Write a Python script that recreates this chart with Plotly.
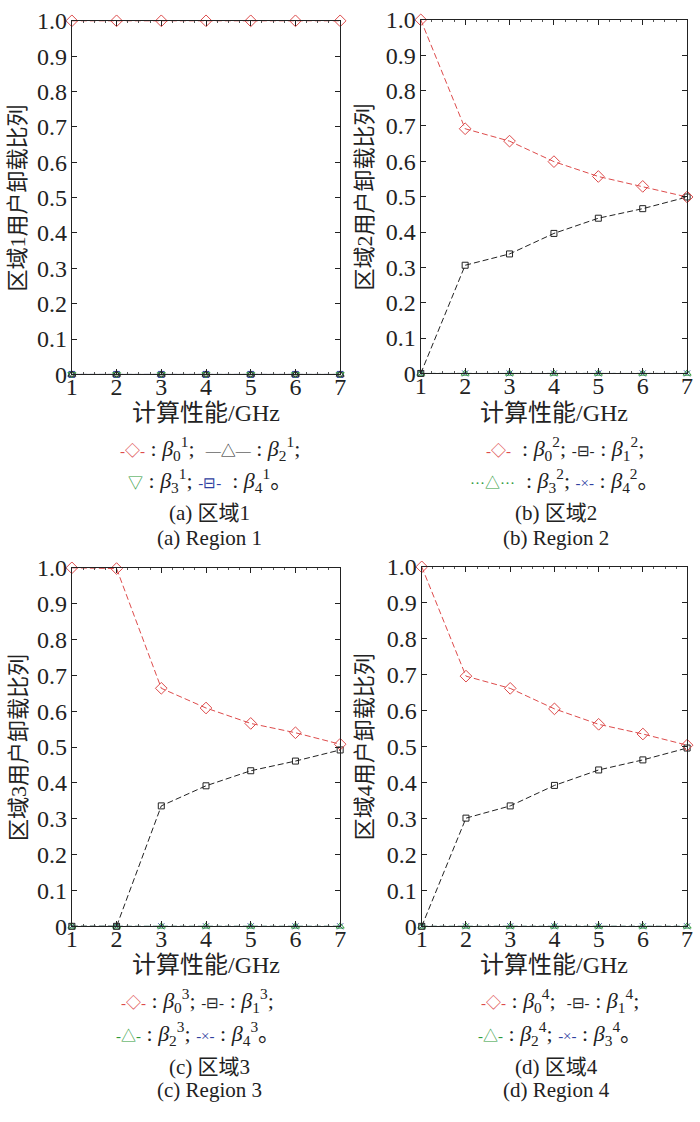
import plotly.graph_objects as go

# ---------------- data ----------------
x_ghz = [1, 2, 3, 4, 5, 6, 7]

# Region 1
r1_b0 = [1.0, 1.0, 1.0, 1.0, 1.0, 1.0, 1.0]
r1_b2 = [0.0, 0.0, 0.0, 0.0, 0.0, 0.0, 0.0]
r1_b3 = [0.0, 0.0, 0.0, 0.0, 0.0, 0.0, 0.0]
r1_b4 = [0.0, 0.0, 0.0, 0.0, 0.0, 0.0, 0.0]

# Region 2
r2_b0 = [1.0, 0.692, 0.657, 0.599, 0.557, 0.529, 0.499]
r2_b1 = [0.0, 0.306, 0.338, 0.396, 0.439, 0.466, 0.499]
r2_b3 = [0.0, 0.0, 0.0, 0.0, 0.0, 0.0, 0.0]
r2_b4 = [0.0, 0.0, 0.0, 0.0, 0.0, 0.0, 0.0]

# Region 3
r3_b0 = [1.0, 0.998, 0.664, 0.609, 0.566, 0.540, 0.508]
r3_b1 = [0.0, 0.0, 0.336, 0.392, 0.434, 0.461, 0.492]
r3_b2 = [0.0, 0.0, 0.0, 0.0, 0.0, 0.0, 0.0]
r3_b4 = [0.0, 0.0, 0.0, 0.0, 0.0, 0.0, 0.0]

# Region 4
r4_b0 = [1.0, 0.696, 0.662, 0.605, 0.562, 0.535, 0.504]
r4_b1 = [0.0, 0.301, 0.335, 0.392, 0.435, 0.463, 0.496]
r4_b2 = [0.0, 0.0, 0.0, 0.0, 0.0, 0.0, 0.0]
r4_b3 = [0.0, 0.0, 0.0, 0.0, 0.0, 0.0, 0.0]

y_ticks = [0, 0.1, 0.2, 0.3, 0.4, 0.5, 0.6, 0.7, 0.8, 0.9, 1.0]
y_ticktext = ["0", "0.1", "0.2", "0.3", "0.4", "0.5", "0.6", "0.7", "0.8", "0.9", "1.0"]

y_titles = ["区域1用户卸载比列", "区域2用户卸载比列", "区域3用户卸载比列", "区域4用户卸载比列"]
x_title = "计算性能/GHz"
captions_cn = ["(a) 区域1", "(b) 区域2", "(c) 区域3", "(d) 区域4"]
captions_en = ["(a) Region 1", "(b) Region 2", "(c) Region 3", "(d) Region 4"]

# ---------------- style ----------------
W, H = 700, 1122
RED = "#dd4b4b"
BLK = "#222222"
GRN = "#2f9a3a"
BLU = "#2f3f9f"
FONT = "Liberation Serif, Noto Sans CJK SC, serif"
DASH = "6px,3px"

# plot area pixel boxes: (left, right, top, bottom)
boxes = [(67, 340, 8, 370), (422, 693, 7, 369), (67, 340, 568, 935), (423, 693, 567, 935)]

fig = go.Figure()


def line(xref, yref, y, color, dash, symbol, size, mode="lines+markers"):
    fig.add_trace(go.Scatter(
        x=x_ghz, y=y, xaxis=xref, yaxis=yref, mode=mode,
        line=dict(color=color, width=1, dash=dash),
        marker=dict(symbol=symbol, size=size, color=color,
                    line=dict(color=color, width=1)),
        cliponaxis=False, showlegend=False))


# panel a
line("x", "y", r1_b4, BLU, DASH, "square-open", 6)
line("x", "y", r1_b3, GRN, None, "triangle-down-open", 7, mode="markers")
line("x", "y", r1_b2, BLK, "solid", "triangle-up-open", 7)
line("x", "y", r1_b0, RED, DASH, "diamond-open", 9)
# panel b
line("x2", "y2", r2_b4, BLU, DASH, "x-thin-open", 6)
line("x2", "y2", r2_b3, GRN, "dot", "triangle-up-open", 7)
line("x2", "y2", r2_b1, BLK, DASH, "square-open", 6)
line("x2", "y2", r2_b0, RED, DASH, "diamond-open", 9)
# panel c
line("x3", "y3", r3_b4, BLU, DASH, "x-thin-open", 6)
line("x3", "y3", r3_b2, GRN, DASH, "triangle-up-open", 7)
line("x3", "y3", r3_b1, BLK, DASH, "square-open", 6)
line("x3", "y3", r3_b0, RED, DASH, "diamond-open", 9)
# panel d
line("x4", "y4", r4_b3, BLU, DASH, "x-thin-open", 6)
line("x4", "y4", r4_b2, GRN, DASH, "triangle-up-open", 7)
line("x4", "y4", r4_b1, BLK, DASH, "square-open", 6)
line("x4", "y4", r4_b0, RED, DASH, "diamond-open", 9)

layout = dict(
    width=W, height=H, margin=dict(l=0, r=0, t=0, b=0),
    paper_bgcolor="white", plot_bgcolor="white",
    font=dict(family=FONT, size=22, color=BLK),
)

for i, (l, r, t, b) in enumerate(boxes):
    sfx = "" if i == 0 else str(i + 1)
    layout["xaxis" + sfx] = dict(
        domain=[l / W, r / W], anchor="y" + sfx, range=[1, 7],
        tickvals=x_ghz, ticks="inside", ticklen=5, tickcolor=BLK,
        showline=True, linecolor=BLK, linewidth=1.3, mirror="allticks",
        showgrid=False, zeroline=False, ticklabelstandoff=-9,
        tickfont=dict(family=FONT, size=24, color=BLK),
        minor=dict(ticks="inside", ticklen=2, dtick=0.25, tickcolor="#555", showgrid=False),
    )
    layout["yaxis" + sfx] = dict(
        domain=[1 - b / H, 1 - t / H], anchor="x" + sfx, range=[0, 1],
        tickvals=y_ticks, ticktext=y_ticktext, ticks="inside", ticklen=5, tickcolor=BLK,
        showline=True, linecolor=BLK, linewidth=1.3, mirror="allticks",
        showgrid=False, zeroline=False, ticklabelstandoff=-1,
        tickfont=dict(family=FONT, size=24, color=BLK),
    )

fig.update_layout(**layout)


def sym(txt, color):
    return f'<span style="color:{color};font-size:15px">{txt}</span>'


def beta(sub, sup):
    return f'<i>β</i><sub>{sub}</sub><sup>{sup}</sup>'


legend_rows = [
    [sym("-◇-", RED) + " : " + beta(0, 1) + ";  " + sym("—△—", BLK) + " : " + beta(2, 1) + ";",
     sym("▽", GRN) + " : " + beta(3, 1) + "; " + sym("-⊟-", BLU) + "  : " + beta(4, 1) + "。"],
    [sym("-◇-", RED) + "  : " + beta(0, 2) + "; " + sym("-⊟-", BLK) + " : " + beta(1, 2) + ";",
     sym("···△···", GRN) + "  : " + beta(3, 2) + "; " + sym("-×-", BLU) + " : " + beta(4, 2) + "。"],
    [sym("-◇-", RED) + " : " + beta(0, 3) + "; " + sym("-⊟-", BLK) + " : " + beta(1, 3) + ";",
     sym("-△-", GRN) + " : " + beta(2, 3) + "; " + sym("-×-", BLU) + " : " + beta(4, 3) + "。"],
    [sym("-◇-", RED) + " : " + beta(0, 4) + ";  " + sym("-⊟-", BLK) + " : " + beta(1, 4) + ";",
     sym("-△-", GRN) + " : " + beta(2, 4) + "; " + sym("-×-", BLU) + " : " + beta(3, 4) + "。"],
]

# vertical positions of text rows (pixels from top) for top and bottom panel rows
text_rows_top = [410, 446, 479, 512, 537]
text_rows_bot = [975, 1011, 1045, 1079, 1103]
legend_cx = [208, 569, 195, 564]
caption_cx = [207, 560, 207, 560]
ytitle_x = [12, 365, 12, 365]

ann = []
for i, (l, r, t, b) in enumerate(boxes):
    rows = text_rows_top if i < 2 else text_rows_bot
    cx = (l + r) / 2
    ann.append(dict(x=cx / W, y=1 - rows[0] / H, text=x_title, font=dict(size=24)))
    ann.append(dict(x=legend_cx[i] / W, y=1 - rows[1] / H, text=legend_rows[i][0]))
    ann.append(dict(x=legend_cx[i] / W, y=1 - rows[2] / H, text=legend_rows[i][1]))
    ann.append(dict(x=caption_cx[i] / W, y=1 - rows[3] / H, text=captions_cn[i], font=dict(size=21)))
    ann.append(dict(x=caption_cx[i] / W, y=1 - rows[4] / H, text=captions_en[i], font=dict(size=21)))
    ann.append(dict(x=ytitle_x[i] / W, y=1 - (t + b) / 2 / H, text=y_titles[i], textangle=-90))

for a in ann:
    a.setdefault("font", dict(size=22))
    a["font"] = dict(family=FONT, color=BLK, **a["font"])
    a.update(xref="paper", yref="paper", showarrow=False, xanchor="center", yanchor="middle")
    fig.add_annotation(**a)

fig.write_html("out.html")
